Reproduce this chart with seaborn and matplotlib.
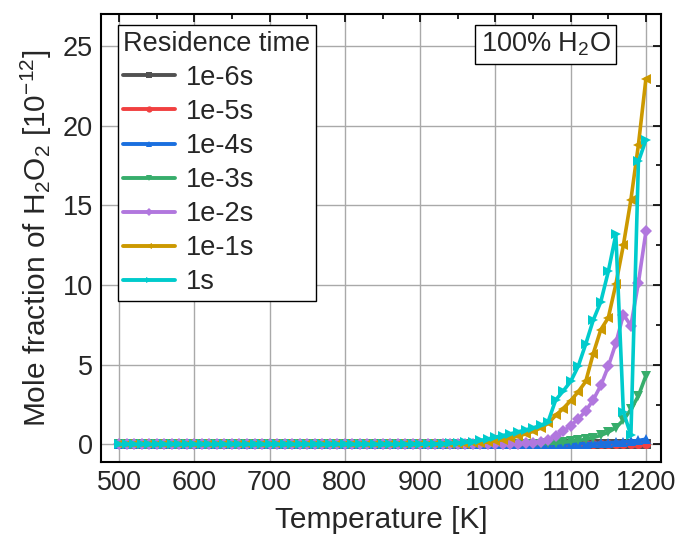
import matplotlib
matplotlib.use("Agg")
import matplotlib.pyplot as plt
from matplotlib.lines import Line2D
from matplotlib.ticker import MultipleLocator
import pandas as pd
import seaborn as sns

# Temperature grid [K]
temperature = [
    500, 510, 520, 530, 540, 550, 560, 570, 580, 590,
    600, 610, 620, 630, 640, 650, 660, 670, 680, 690,
    700, 710, 720, 730, 740, 750, 760, 770, 780, 790,
    800, 810, 820, 830, 840, 850, 860, 870, 880, 890,
    900, 910, 920, 930, 940, 950, 960, 970, 980, 990,
    1000, 1010, 1020, 1030, 1040, 1050, 1060, 1070, 1080, 1090,
    1100, 1110, 1120, 1130, 1140, 1150, 1160, 1170, 1180, 1190,
    1200,
]

# H2O2 mole fraction [1e-12] for each residence time
h2o2_1e6s = [
    0, 0, 0, 0, 0, 0, 0, 0, 0, 0,
    0, 0, 0, 0, 0, 0, 0, 0, 0, 0,
    0, 0, 0, 0, 0, 0, 0, 0, 0, 0,
    0, 0, 0, 0, 0, 0, 0, 0, 0, 0,
    0, 0, 0, 0, 0, 0, 0, 0, 0, 0,
    0, 0, 0, 0, 0, 0, 0, 0, 0, 0,
    0, 0, 0, 0, 0, 0, 0, 0, 0, 0,
    0,
]
h2o2_1e5s = [
    0, 0, 0, 0, 0, 0, 0, 0, 0, 0,
    0, 0, 0, 0, 0, 0, 0, 0, 0, 0,
    0, 0, 0, 0, 0, 0, 0, 0, 0, 0,
    0, 0, 0, 0, 0, 0, 0, 0, 0, 0,
    0, 0, 0, 0, 0, 0, 0, 0, 0, 0,
    0, 0, 0, 0, 0, 0, 0, 0, 0, 0,
    0.005, 0.005, 0.01, 0.01, 0.01, 0.015, 0.015, 0.02, 0.02, 0.025,
    0.03,
]
h2o2_1e4s = [
    0, 0, 0, 0, 0, 0, 0, 0, 0, 0,
    0, 0, 0, 0, 0, 0, 0, 0, 0, 0,
    0, 0, 0, 0, 0, 0, 0, 0, 0, 0,
    0, 0, 0, 0, 0, 0, 0, 0, 0, 0,
    0, 0, 0, 0, 0, 0, 0, 0, 0, 0,
    0.005, 0.007, 0.01, 0.012, 0.015, 0.018, 0.022, 0.026, 0.03, 0.035,
    0.04, 0.05, 0.06, 0.07, 0.09, 0.11, 0.13, 0.16, 0.2, 0.25,
    0.33,
]
h2o2_1e3s = [
    0, 0, 0, 0, 0, 0, 0, 0, 0, 0,
    0, 0, 0, 0, 0, 0, 0, 0, 0, 0,
    0, 0, 0, 0, 0, 0, 0, 0, 0, 0,
    0, 0, 0, 0, 0, 0, 0, 0, 0, 0,
    0, 0, 0, 0, 0.002, 0.003, 0.004, 0.005, 0.007, 0.009,
    0.012, 0.016, 0.02, 0.026, 0.033, 0.042, 0.053, 0.067, 0.085, 0.14,
    0.19, 0.25, 0.32, 0.43, 0.57, 0.77, 1.05, 1.53, 2.2, 3.05,
    4.32,
]
h2o2_1e2s = [
    0, 0, 0, 0, 0, 0, 0, 0, 0, 0,
    0, 0, 0, 0, 0, 0, 0, 0, 0, 0,
    0, 0, 0, 0, 0, 0, 0, 0, 0, 0,
    0, 0, 0, 0, 0, 0, 0, 0, 0, 0,
    0, 0, 0, 0, 0.002, 0.003, 0.004, 0.006, 0.008, 0.011,
    0.016, 0.022, 0.03, 0.045, 0.07, 0.11, 0.18, 0.3, 0.52, 0.82,
    1.18, 1.6, 2.1, 2.8, 3.7, 4.9, 6.34, 8.15, 7.45, 10.15,
    13.36,
]
h2o2_1e1s = [
    0, 0, 0, 0, 0, 0, 0, 0, 0, 0,
    0, 0, 0, 0, 0, 0, 0, 0, 0, 0,
    0, 0, 0, 0, 0, 0, 0, 0, 0, 0,
    0, 0, 0, 0, 0, 0, 0, 0, 0.003, 0.005,
    0.008, 0.012, 0.017, 0.024, 0.033, 0.045, 0.06, 0.08, 0.11, 0.15,
    0.22, 0.3, 0.4, 0.52, 0.66, 0.82, 1.03, 1.32, 1.82, 2.25,
    2.75, 3.3, 3.95, 5.7, 7.2, 7.95, 10.05, 12.5, 15.35, 18.8,
    22.95,
]
h2o2_1s = [
    0, 0, 0, 0, 0, 0, 0, 0, 0, 0,
    0, 0, 0, 0, 0, 0, 0, 0, 0, 0,
    0, 0, 0, 0, 0, 0, 0, 0, 0, 0,
    0, 0, 0, 0, 0, 0, 0, 0, 0.005, 0.01,
    0.015, 0.02, 0.03, 0.045, 0.065, 0.09, 0.13, 0.18, 0.25, 0.34,
    0.46, 0.56, 0.67, 0.79, 0.91, 1.04, 1.19, 1.42, 2.78, 3.35,
    3.95, 4.9, 6.3, 7.8, 8.95, 10.85, 13.17, 2.05, 0.58, 17.75,
    19.1,
]

residence_labels = ["1e-6s", "1e-5s", "1e-4s", "1e-3s", "1e-2s", "1e-1s", "1s"]
series = [h2o2_1e6s, h2o2_1e5s, h2o2_1e4s, h2o2_1e3s, h2o2_1e2s, h2o2_1e1s, h2o2_1s]
colors = ["#515151", "#F14040", "#1A6FDF", "#37AD6B", "#B177DE", "#CC9900", "#00CBCC"]
markers = ["s", "o", "^", "v", "D", "<", ">"]

frames = []
for label, values in zip(residence_labels, series):
    frames.append(pd.DataFrame({"T": temperature, "X": values, "tau": label}))
df = pd.concat(frames, ignore_index=True)

sns.set_theme(style="white")
plt.rcParams["font.family"] = ["Liberation Sans", "DejaVu Sans"]
plt.rcParams["mathtext.fontset"] = "custom"
plt.rcParams["mathtext.rm"] = "Liberation Sans"
plt.rcParams["mathtext.it"] = "Liberation Sans:italic"
plt.rcParams["mathtext.bf"] = "Liberation Sans:bold"

fig = plt.figure(figsize=(6.84, 5.40), dpi=100)
ax = fig.add_axes([101 / 684, 1 - 462 / 540, 560 / 684, 448 / 540])

sns.lineplot(
    data=df, x="T", y="X", hue="tau", style="tau",
    hue_order=residence_labels, style_order=residence_labels,
    palette=colors, markers=markers, dashes=False,
    linewidth=2.6, markersize=6.5, markeredgewidth=0,
    legend=False, ax=ax,
)

ax.set_xlim(476, 1220)
ax.set_ylim(-1.1, 27.0)
ax.xaxis.set_major_locator(MultipleLocator(100))
ax.xaxis.set_minor_locator(MultipleLocator(50))
ax.yaxis.set_major_locator(MultipleLocator(5))
ax.yaxis.set_minor_locator(MultipleLocator(2.5))
ax.tick_params(which="both", direction="in", top=True, right=True,
               width=1.2, color="black", labelsize=19.5, pad=6)
ax.tick_params(which="major", length=6)
ax.tick_params(which="minor", length=3.5)
ax.grid(True, which="major", color="#a9a9a9", linewidth=1.0)
ax.set_axisbelow(True)
for sp in ax.spines.values():
    sp.set_color("black")
    sp.set_linewidth(1.5)

ax.set_xlabel("Temperature [K]", fontsize=21.5, labelpad=7)
ax.set_ylabel("Mole fraction of H$_2$O$_2$ [10$^{-12}$]", fontsize=21.5, labelpad=6)

ax.text(0.794, 0.932, "100% H$_2$O", transform=ax.transAxes,
        ha="center", va="center", fontsize=19.5,
        bbox=dict(boxstyle="square,pad=0.2", fc="white", ec="black", lw=1.0))

handles = [Line2D([], [], color=c, marker=m, lw=2.8, ms=4.5, mew=0)
           for c, m in zip(colors, markers)]
leg = ax.legend(handles, residence_labels, title="Residence time",
                loc="upper left", bbox_to_anchor=(0.03, 0.975),
                frameon=True, fancybox=False, framealpha=1, edgecolor="black",
                fontsize=19.5, title_fontsize=19.5, handlelength=1.9,
                handletextpad=0.4, labelspacing=0.3, borderpad=0.2,
                borderaxespad=0)
leg.get_frame().set_linewidth(1.0)
leg._legend_box.align = "left"

fig.savefig("out.png", dpi=100)
